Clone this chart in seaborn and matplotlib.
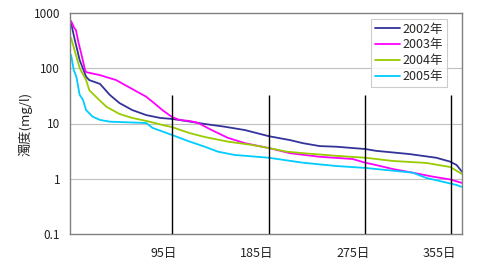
import matplotlib
matplotlib.use("Agg")
import matplotlib.pyplot as plt
import matplotlib.transforms as mtransforms
import seaborn as sns
import pandas as pd

# ---- data (day of ranked duration curve, turbidity mg/l)
days_2002 = [1, 4.5, 9, 15, 18, 28, 37, 46, 58, 71, 84, 95, 108, 125.5, 144, 163, 185, 205, 217,
             232.5, 248, 263, 275, 285, 316, 341, 354, 360, 365]
vals_2002 = [659, 324, 141, 70, 61, 52, 33, 23.5, 17.5, 14.2, 12.6, 12.1, 11.1, 9.8, 8.75, 7.6, 5.9,
             5.0, 4.4, 3.9, 3.8, 3.6, 3.45, 3.2, 2.8, 2.4, 2.04, 1.77, 1.34]

days_2003 = [1, 4, 5.5, 8, 11, 14, 15, 28, 43, 58, 71, 80.5, 86, 95, 102, 111.5, 119, 132, 147, 163,
             185, 205, 232.5, 263, 275, 285, 300.5, 319, 338, 354, 365]
vals_2003 = [716, 535, 492, 286, 167, 93, 85, 75, 61, 42, 30.5, 21.6, 17.5, 13.1, 11.6, 11.1, 10.3,
             7.6, 5.5, 4.4, 3.6, 2.9, 2.5, 2.28, 1.95, 1.77, 1.5, 1.29, 1.09, 0.97, 0.84]

days_2004 = [1, 5.5, 9, 15, 18, 24.5, 34, 46, 58, 74, 86, 95, 111.5, 125.5, 147, 169, 185, 201.5,
             217, 248, 275, 300.5, 332, 354, 365]
vals_2004 = [353, 174, 101, 61, 40, 30, 20, 14.9, 12.6, 10.8, 9.4, 8.6, 6.7, 5.7, 4.7, 4.1, 3.6, 3.1,
             2.9, 2.6, 2.4, 2.1, 1.93, 1.63, 1.22]

days_2005 = [1, 3.5, 6, 9, 12, 15, 21, 28, 37, 71, 77, 95, 111.5, 125.5, 137.5, 153, 185, 217, 248,
             275, 300.5, 319, 332, 347, 360, 365]
vals_2005 = [174, 93, 69, 33, 27, 17.5, 13.3, 11.6, 10.8, 10.2, 8.3, 6.2, 4.7, 3.8, 3.1, 2.7, 2.4,
             1.95, 1.70, 1.57, 1.40, 1.29, 1.03, 0.885, 0.77, 0.71]

series_names = ["2002年", "2003年", "2004年", "2005年"]
marker_days = [95, 185, 275, 355]
marker_labels = ["95日", "185日", "275日", "355日"]
marker_top = 33
y_ticks = [0.1, 1, 10, 100, 1000]
y_tick_labels = ["0.1", "1", "10", "100", "1000"]
y_label = "濁度(mg/l)"

frames = []
for name, d, v in zip(series_names,
                      [days_2002, days_2003, days_2004, days_2005],
                      [vals_2002, vals_2003, vals_2004, vals_2005]):
    frames.append(pd.DataFrame({"day": d, "value": v, "year": name}))
df = pd.concat(frames, ignore_index=True)

sns.set_style("white")
plt.rcParams["font.family"] = ["Noto Sans CJK JP", "DejaVu Sans"]

fig = plt.figure(figsize=(4.8, 2.76), dpi=100)
ax = fig.add_axes([70 / 480, 1 - 234 / 276, 392 / 480, 221 / 276])

palette = {"2002年": "#333399", "2003年": "#FF00FF", "2004年": "#99CC00", "2005年": "#00CCFF"}

ax.set_yscale("log")
ax.set_ylim(0.1, 1000)
ax.set_xlim(0, 365)

for yv in [1, 10, 100]:
    ax.axhline(yv, color="#C0C0C0", lw=0.8, zorder=0)

sns.lineplot(data=df, x="day", y="value", hue="year", palette=palette, estimator=None,
             sort=False, lw=1.3, ax=ax, legend=True)

ax.vlines(marker_days, 0.1, marker_top, colors="black", lw=1.0, zorder=3)

ax.set_yticks(y_ticks)
ax.set_yticklabels(y_tick_labels)
ax.yaxis.set_minor_locator(matplotlib.ticker.NullLocator())
ax.set_xticks(marker_days)
ax.set_xticklabels(marker_labels)
ax.tick_params(axis="both", length=0, colors="#222222")
ax.tick_params(axis="x", pad=9, labelsize=9)
ax.tick_params(axis="y", pad=7, labelsize=8.5)
offset = mtransforms.ScaledTranslation(5 / 100, 0, fig.dpi_scale_trans)
for lab in ax.get_xticklabels():
    lab.set_horizontalalignment("right")
    lab.set_transform(lab.get_transform() + offset)
ax.set_xlabel("")
ax.set_ylabel(y_label, fontsize=9.5, labelpad=1)

for s in ax.spines.values():
    s.set_color("#808080")
    s.set_linewidth(1.0)

leg = ax.legend(loc="upper right", bbox_to_anchor=(0.962, 0.973), fontsize=9,
                frameon=True, fancybox=False, edgecolor="#C0C0C0", handlelength=2.0,
                borderpad=0.3, labelspacing=0.22, handletextpad=0.25, borderaxespad=0)
leg.get_frame().set_linewidth(0.8)
for line in leg.get_lines():
    line.set_linewidth(1.3)

fig.savefig("out.png", dpi=100)
